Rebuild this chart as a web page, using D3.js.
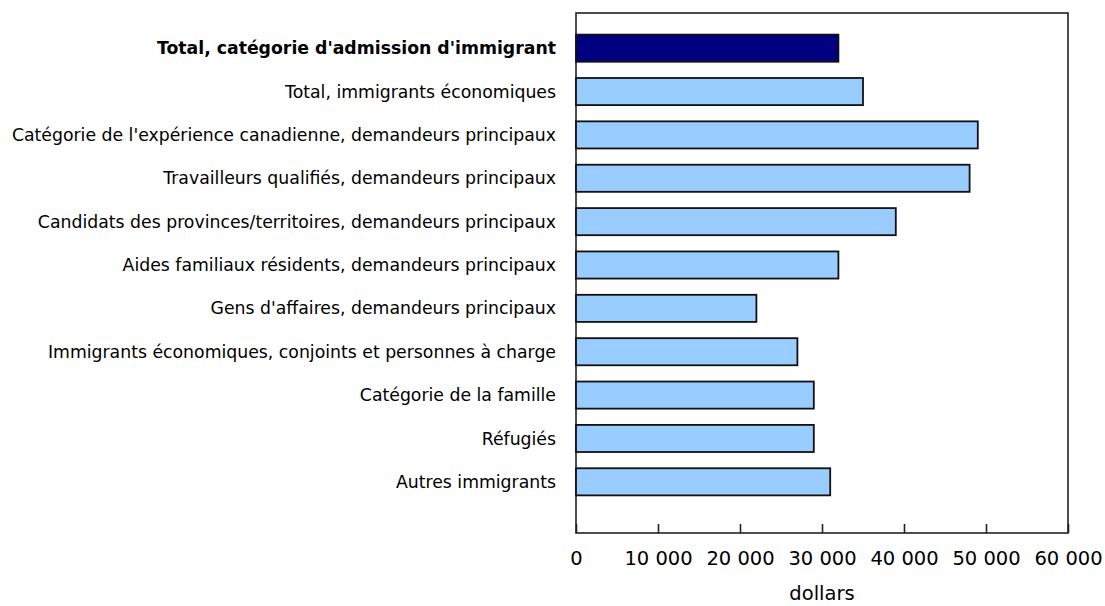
<!DOCTYPE html>
<html>
<head>
<meta charset="utf-8">
<script src="https://cdn.jsdelivr.net/npm/d3@7"></script>
<style>
  body { margin: 0; background: #fff; }
  svg { display: block; font-family: 'DejaVu Sans', Verdana, sans-serif; }
</style>
</head>
<body>
<svg id="chart" width="1105" height="606"></svg>
<script>
// categories (top to bottom)
const categories = [
  "Total, catégorie d'admission d'immigrant",
  'Total, immigrants économiques',
  "Catégorie de l'expérience canadienne, demandeurs principaux",
  'Travailleurs qualifiés, demandeurs principaux',
  'Candidats des provinces/territoires, demandeurs principaux',
  'Aides familiaux résidents, demandeurs principaux',
  "Gens d'affaires, demandeurs principaux",
  'Immigrants économiques, conjoints et personnes à charge',
  'Catégorie de la famille',
  'Réfugiés',
  'Autres immigrants'
];
// median earnings, dollars
const values = [32000, 35000, 49000, 48000, 39000, 32000, 22000, 27000, 29000, 29000, 31000];
const xTicks = [0, 10000, 20000, 30000, 40000, 50000, 60000];
const axisTitle = 'dollars';

const svg = d3.select('#chart');
const box = {left: 576, right: 1068, top: 13, bottom: 533};

const x = d3.scaleLinear().domain([0, 60000]).range([box.left, box.right]);
const y = d3.scaleBand().domain(categories).range([26.5, 503.5])
    .paddingInner(0.375).paddingOuter(0.1875);

const fmt = d => d3.format(',')(d).replace(/,/g, ' ');

// plot frame
svg.append('rect')
    .attr('x', box.left).attr('y', box.top)
    .attr('width', box.right - box.left).attr('height', box.bottom - box.top)
    .attr('fill', 'none').attr('stroke', '#222').attr('stroke-width', 1.6);

// bars
svg.append('g').selectAll('rect')
  .data(categories)
  .join('rect')
    .attr('x', x(0))
    .attr('y', d => y(d))
    .attr('width', (d, i) => x(values[i]) - x(0))
    .attr('height', y.bandwidth())
    .attr('fill', (d, i) => i === 0 ? '#000080' : '#99ccff')
    .attr('stroke', '#111')
    .attr('stroke-width', 1.8);

// category labels
svg.append('g').selectAll('text')
  .data(categories)
  .join('text')
    .attr('x', box.left - 20)
    .attr('y', d => y(d) + y.bandwidth() / 2)
    .attr('dy', '0.35em')
    .attr('text-anchor', 'end')
    .attr('font-size', 17.3)
    .attr('font-weight', (d, i) => i === 0 ? 'bold' : 'normal')
    .attr('fill', '#000')
    .text(d => d);

// x axis, ticks pointing into the plot
const xAxis = d3.axisBottom(x).tickValues(xTicks).tickSize(-9).tickPadding(18).tickFormat(fmt);
const gx = svg.append('g')
    .attr('transform', 'translate(0,' + box.bottom + ')')
    .call(xAxis);
gx.select('.domain').remove();
gx.selectAll('.tick line').attr('stroke', '#222').attr('stroke-width', 1.6);
gx.selectAll('.tick text')
    .attr('font-size', 19.5)
    .attr('font-family', "'DejaVu Sans', Verdana, sans-serif")
    .attr('fill', '#000');

svg.append('text')
    .attr('x', (box.left + box.right) / 2)
    .attr('y', 600)
    .attr('text-anchor', 'middle')
    .attr('font-size', 19.5)
    .attr('fill', '#000')
    .text(axisTitle);
</script>
</body>
</html>
